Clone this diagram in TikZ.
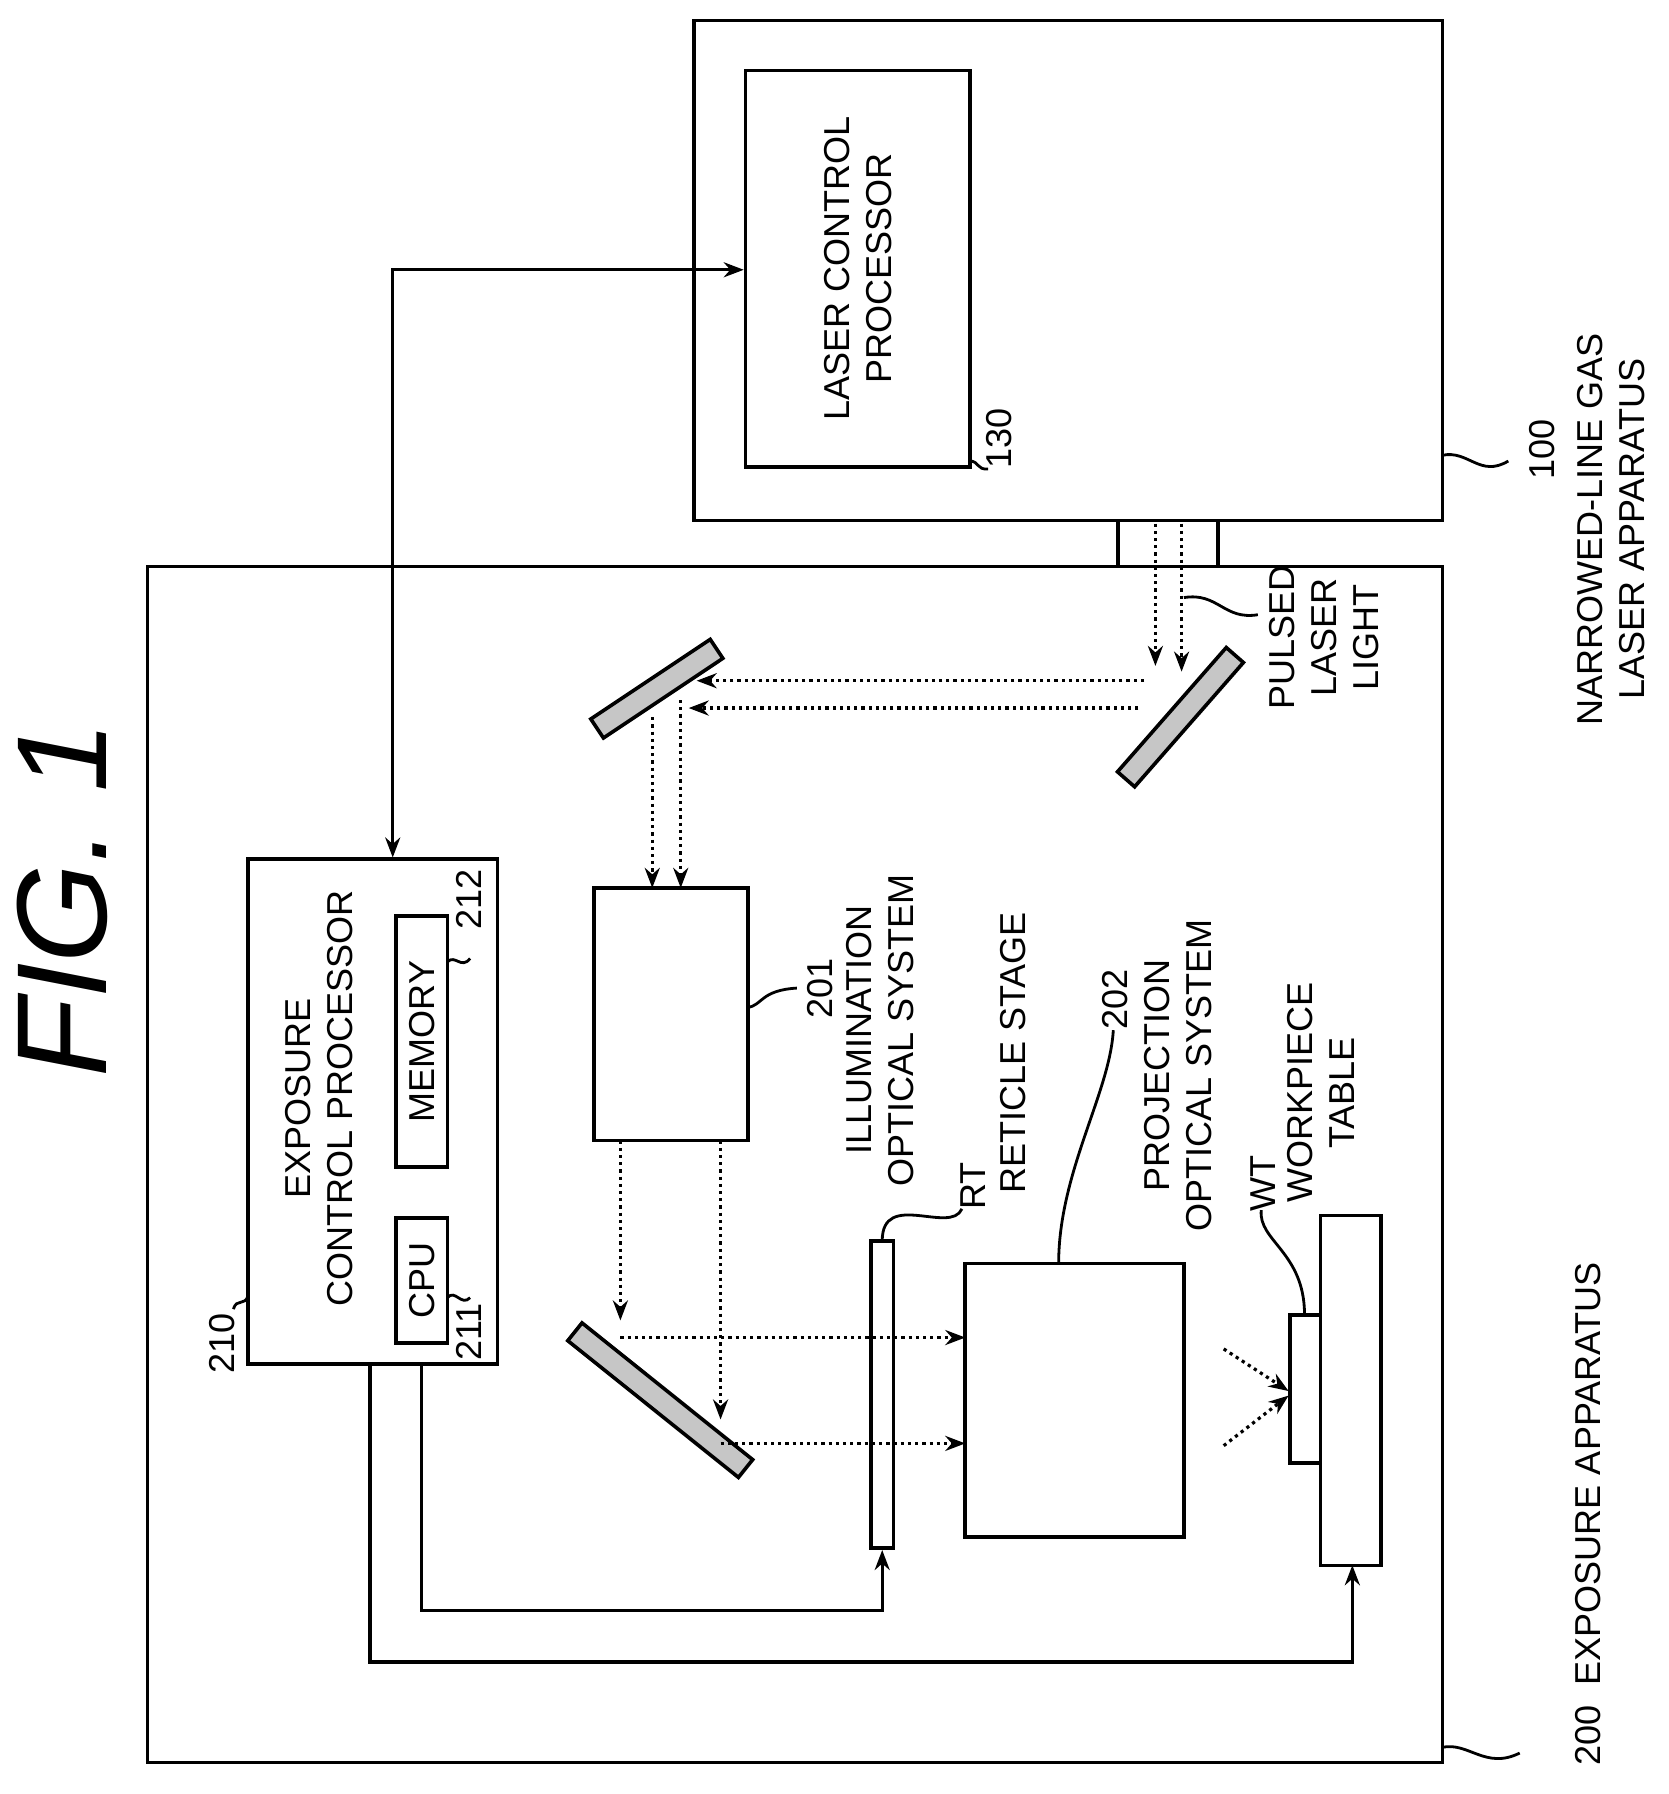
\documentclass[tikz,border=0pt]{standalone}
\usepackage{fontspec}
\setmainfont{Liberation Sans}
\usetikzlibrary{arrows.meta, positioning}
\begin{document}
\begin{tikzpicture}[x=0.01cm, y=-0.01cm, >={Stealth[length=5pt]},
    box/.style={draw, line width=0.9pt, inner sep=0pt},
    mirror/.style={draw, line width=0.9pt, fill=gray!45, minimum height=0.2cm, inner sep=0pt},
    beam/.style={densely dotted, line width=0.8pt, ->},
    ctrl/.style={line width=0.8pt, ->},
    lbl/.style={rotate=90, font=\fontsize{9}{10.5}\selectfont, align=center, inner sep=1pt},
    lead/.style={line width=0.7pt}]
  \useasboundingbox (0,0) rectangle (1466,1576);

  % title
  \node[rotate=90, font=\itshape\fontsize{32}{34}\selectfont] (fig) at (55,790) {FIG. 1};

  % laser apparatus
  \node[box, minimum width=6.57cm, minimum height=4.39cm] (laser) at (938.5,237.5) {};
  \node[box, minimum width=1.97cm, minimum height=3.48cm] (lcp) at (753.5,236) {};
  \node[lbl] (lcptxt) at (753.5,236) {LASER CONTROL\\PROCESSOR};
  \node[lbl] (l130) at (878,385) {130};
  \draw[lead] (852,405) .. controls (860,405) and (858,413) .. (868,412);
  \node[lbl] (n100) at (1355,395) {100};
  \node[lbl] (l100) at (1415,465) {NARROWED-LINE GAS\\LASER APPARATUS};
  \draw[lead] (1267,400) .. controls (1290,395) and (1300,420) .. (1325,405);

  % exposure apparatus
  \node[box, minimum width=11.37cm, minimum height=10.5cm] (expo) at (698.5,1023) {};
  \node[lbl, anchor=west] (l200) at (1395,1555) {200\ \ EXPOSURE APPARATUS};
  \draw[lead] (1267,1535) .. controls (1290,1530) and (1305,1555) .. (1335,1540);

  % coupling tube
  \draw[line width=0.9pt] (982,457) -- (982,498) (1070,457) -- (1070,498);

  % exposure control processor
  \node[box, minimum width=2.19cm, minimum height=4.43cm] (ecp) at (327.5,976.5) {};
  \node[lbl] (ecptxt) at (280,965) {EXPOSURE\\CONTROL PROCESSOR};
  \node[box, minimum width=0.45cm, minimum height=1.10cm] (cpu) at (370.5,1125) {};
  \node[lbl] at (cpu) {CPU};
  \node[box, minimum width=0.45cm, minimum height=2.2cm] (mem) at (370.5,915) {};
  \node[lbl] at (mem) {MEMORY};
  \node[lbl] (l210) at (195,1180) {210};
  \draw[lead] (205,1150) .. controls (208,1140) and (215,1148) .. (218,1138);
  \node[lbl] (l211) at (412,1170) {211};
  \draw[lead] (393,1140) .. controls (400,1132) and (405,1148) .. (413,1140);
  \node[lbl] (l212) at (412,790) {212};
  \draw[lead] (393,845) .. controls (400,838) and (405,852) .. (413,842);

  % signal lines
  \coordinate (c1) at (345,237);
  \draw[line width=0.8pt, <->] (ecp.north -| c1) -- (c1) -- (lcp.west |- c1);

  % optics
  \node[mirror, minimum width=1.26cm, rotate=33.7] (m1) at (577,605) {};
  \node[mirror, minimum width=1.45cm, rotate=48.8] (m2) at (1037,630) {};
  \node[mirror, minimum width=1.92cm, rotate=-38.7] (m3) at (580,1230) {};
  \node[box, minimum width=1.35cm, minimum height=2.22cm] (ill) at (589.5,891) {};
  \node[lbl] (n201) at (720,868) {201};
  \node[lbl] (l201) at (773,905) {ILLUMINATION\\OPTICAL SYSTEM};
  \draw[lead] (657,885) .. controls (670,883) and (668,870) .. (700,868);
  \node[box, minimum width=0.2cm, minimum height=2.7cm] (rt) at (775,1225) {};
  \node[lbl] (lrt) at (855,1042) {RT};
  \node[lbl] (lrs) at (890,925) {RETICLE STAGE};
  \draw[lead] (775,1090) .. controls (775,1045) and (835,1085) .. (845,1062);
  \node[lbl] (n202) at (980,878) {202};
  \node[lbl] (l202) at (1035,945) {PROJECTION\\OPTICAL SYSTEM};
  \node[box, minimum width=1.92cm, minimum height=2.4cm] (proj) at (944,1230) {};
  \draw[lead] (930,1110) .. controls (930,1030) and (975,960) .. (978,905);
  \node[box, minimum width=0.27cm, minimum height=1.3cm] (wt) at (1146.5,1220) {};
  \node[box, minimum width=0.53cm, minimum height=3.07cm] (table) at (1186.5,1221.5) {};
  \node[lbl] (nwt) at (1110,1040) {WT};
  \node[lbl] (lwt) at (1160,960) {WORKPIECE\\TABLE};
  \draw[lead] (1146,1155) .. controls (1146,1100) and (1105,1090) .. (1108,1063);
  \node[lbl] (lpl) at (1163,560) {PULSED\\LASER\\LIGHT};
  \draw[lead] (1040,525) .. controls (1070,520) and (1075,545) .. (1105,540);

  % beams
  \draw[beam] (1015,460) -- (1015,585);
  \draw[beam] (1038,460) -- (1038,590);
  \draw[beam] (1005,598) -- (612,598);
  \draw[beam] (1000,622) -- (605,622);
  \draw[beam] (598,615) -- (598,780);
  \draw[beam] (573,630) -- (573,780);
  \draw[beam] (545,1002) -- (545,1160);
  \draw[beam] (633,1002) -- (633,1247);
  \draw[beam] (545,1175) -- (848,1175);
  \draw[beam] (633,1268) -- (848,1268);
  \draw[beam] (1075,1185) -- (1132,1222);
  \draw[beam] (1075,1270) -- (1132,1226);

  % control lines
  \draw[ctrl] (370,1198) -- (370,1415) -- (775,1415) -- (rt.south);
  \draw[ctrl] (325,1198) -- (325,1460) -- (1188,1460) -- (1188,1375);
\end{tikzpicture}
\end{document}
